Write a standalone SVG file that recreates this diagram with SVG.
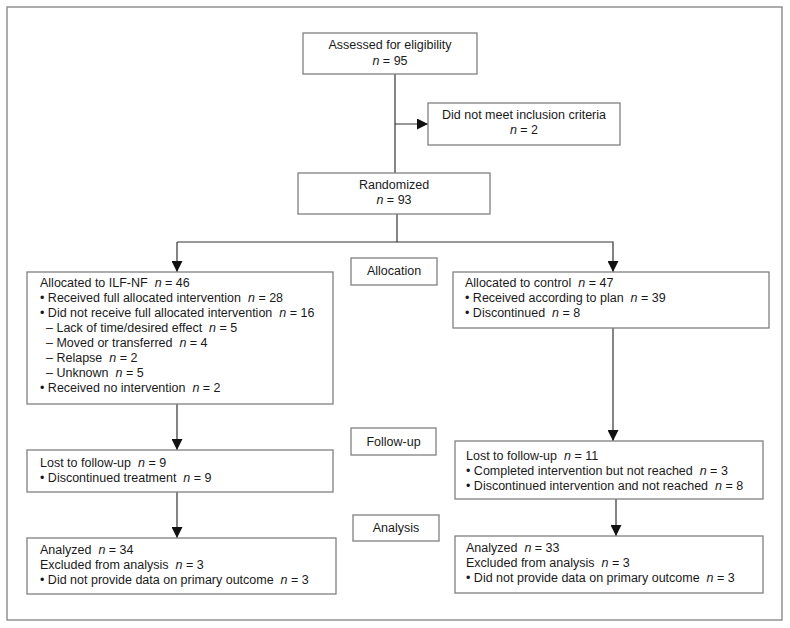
<svg xmlns="http://www.w3.org/2000/svg" width="790" height="628" viewBox="0 0 790 628">
<defs>
<style>
.box{fill:#fff;stroke:#808080;stroke-width:1.3}
.frame{fill:#fff;stroke:#8a8a8a;stroke-width:1.4}
.ln{fill:none;stroke:#333;stroke-width:1.2}
text{font-family:"Liberation Sans",Arial,sans-serif;font-size:12.5px;fill:#1a1a1a;white-space:pre}
.c{text-anchor:middle}
.i{font-style:italic}
</style>
<marker id="ah" viewBox="0 0 10 10" refX="10" refY="5" markerWidth="11" markerHeight="11" markerUnits="userSpaceOnUse" orient="auto">
<path d="M0,0 L10,5 L0,10 z" fill="#111"/>
</marker>
</defs>
<rect class="frame" x="7" y="7" width="775" height="613"/>
<g id="connectors">
<line class="ln" x1="395" y1="74" x2="395" y2="173"/>
<line class="ln" x1="395" y1="124" x2="428" y2="124" marker-end="url(#ah)"/>
<line class="ln" x1="397" y1="214" x2="397" y2="242"/>
<polyline class="ln" points="177,242 613,242 613,272" marker-end="url(#ah)"/>
<line class="ln" x1="177" y1="242" x2="177" y2="272" marker-end="url(#ah)"/>
<line class="ln" x1="177" y1="404" x2="177" y2="450" marker-end="url(#ah)"/>
<line class="ln" x1="177" y1="492" x2="177" y2="538" marker-end="url(#ah)"/>
<line class="ln" x1="613" y1="328" x2="613" y2="441" marker-end="url(#ah)"/>
<line class="ln" x1="616" y1="499" x2="616" y2="536" marker-end="url(#ah)"/>
</g>
<g id="assessed">
<rect class="box" x="303" y="33" width="174" height="41"/>
<text class="c" x="390" y="49">Assessed for eligibility</text>
<text class="c" x="390" y="65"><tspan class="i">n</tspan> = 95</text>
</g>
<g id="excluded">
<rect class="box" x="428" y="103" width="192" height="42"/>
<text class="c" x="524" y="119">Did not meet inclusion criteria</text>
<text class="c" x="524" y="134"><tspan class="i">n</tspan> = 2</text>
</g>
<g id="randomized">
<rect class="box" x="298" y="173" width="192" height="41"/>
<text class="c" x="394" y="189">Randomized</text>
<text class="c" x="394" y="204"><tspan class="i">n</tspan> = 93</text>
</g>
<g id="label-allocation">
<rect class="box" x="351" y="258" width="86" height="27"/>
<text class="c" x="394" y="275">Allocation</text>
</g>
<g id="alloc-ilf">
<rect class="box" x="27" y="272" width="306" height="132"/>
<text x="40" y="287">Allocated to ILF-NF  <tspan class="i">n</tspan> = 46</text>
<text x="40" y="302">• Received full allocated intervention  <tspan class="i">n</tspan> = 28</text>
<text x="40" y="317">• Did not receive full allocated intervention  <tspan class="i">n</tspan> = 16</text>
<text x="46" y="332">– Lack of time/desired effect  <tspan class="i">n</tspan> = 5</text>
<text x="46" y="347">– Moved or transferred  <tspan class="i">n</tspan> = 4</text>
<text x="46" y="362">– Relapse  <tspan class="i">n</tspan> = 2</text>
<text x="46" y="377">– Unknown  <tspan class="i">n</tspan> = 5</text>
<text x="40" y="392">• Received no intervention  <tspan class="i">n</tspan> = 2</text>
</g>
<g id="alloc-control">
<rect class="box" x="453" y="272" width="316" height="56"/>
<text x="465" y="287">Allocated to control  <tspan class="i">n</tspan> = 47</text>
<text x="465" y="302">• Received according to plan  <tspan class="i">n</tspan> = 39</text>
<text x="465" y="317">• Discontinued  <tspan class="i">n</tspan> = 8</text>
</g>
<g id="label-followup">
<rect class="box" x="351" y="428" width="85" height="27"/>
<text class="c" x="393.5" y="446">Follow-up</text>
</g>
<g id="followup-ilf">
<rect class="box" x="27" y="450" width="306" height="42"/>
<text x="40" y="467">Lost to follow-up  <tspan class="i">n</tspan> = 9</text>
<text x="40" y="482">• Discontinued treatment  <tspan class="i">n</tspan> = 9</text>
</g>
<g id="followup-control">
<rect class="box" x="455" y="441" width="308" height="58"/>
<text x="466" y="460">Lost to follow-up  <tspan class="i">n</tspan> = 11</text>
<text x="466" y="475">• Completed intervention but not reached  <tspan class="i">n</tspan> = 3</text>
<text x="466" y="490">• Discontinued intervention and not reached  <tspan class="i">n</tspan> = 8</text>
</g>
<g id="label-analysis">
<rect class="box" x="353" y="515" width="86" height="26"/>
<text class="c" x="396" y="532">Analysis</text>
</g>
<g id="analysis-ilf">
<rect class="box" x="27" y="538" width="309" height="56"/>
<text x="40" y="554">Analyzed  <tspan class="i">n</tspan> = 34</text>
<text x="40" y="569">Excluded from analysis  <tspan class="i">n</tspan> = 3</text>
<text x="40" y="584">• Did not provide data on primary outcome  <tspan class="i">n</tspan> = 3</text>
</g>
<g id="analysis-control">
<rect class="box" x="455" y="536" width="308" height="57"/>
<text x="466" y="552">Analyzed  <tspan class="i">n</tspan> = 33</text>
<text x="466" y="567">Excluded from analysis  <tspan class="i">n</tspan> = 3</text>
<text x="466" y="582">• Did not provide data on primary outcome  <tspan class="i">n</tspan> = 3</text>
</g>
</svg>
